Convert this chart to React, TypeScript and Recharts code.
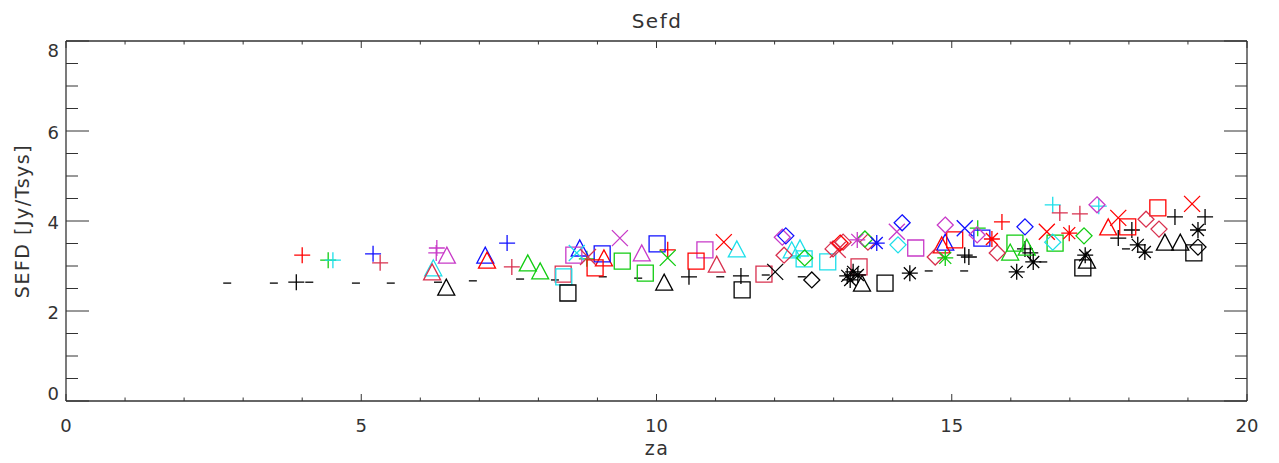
import React from 'react';
import { ScatterChart, Scatter, XAxis, YAxis } from 'recharts';

type Pt = [number, number];

// ---- data: [za, SEFD] per marker group ----
const blackDash: Pt[] = [[2.73,2.62],[3.52,2.62],[4.12,2.64],[4.91,2.62],[5.50,2.62],[6.30,2.64],[6.89,2.67],[7.69,2.71],[8.28,2.69],[9.09,2.76],[9.69,2.73],[11.08,2.76],[11.85,2.80],[12.46,2.76],[14.61,2.89],[15.21,2.89],[16.55,3.09],[17.95,3.38]];

const blackPlus: Pt[] = [[3.90,2.64],[10.55,2.76],[11.43,2.78],[15.22,3.24],[15.29,3.20],[16.24,3.38],[16.33,3.29],[17.82,3.62],[18.05,3.80],[18.78,4.09],[19.29,4.09]];
const redPlus: Pt[] = [[4.00,3.24],[10.19,3.36],[15.85,3.98]];
const greenPlus: Pt[] = [[4.44,3.13],[8.82,3.16],[15.44,3.84]];
const cyanPlus: Pt[] = [[4.52,3.13],[16.71,4.36],[17.49,4.33]];
const bluePlus: Pt[] = [[5.20,3.27],[7.47,3.51]];
const crimsonPlus: Pt[] = [[5.32,3.07],[7.55,2.98],[16.83,4.18],[17.17,4.16]];
const magentaPlus: Pt[] = [[6.28,3.40],[6.27,3.29]];

const magentaTri: Pt[] = [[6.45,3.24],[9.75,3.29]];
const cyanTri: Pt[] = [[6.22,2.96],[11.36,3.38],[12.29,3.36],[12.43,3.40]];
const crimsonTri: Pt[] = [[6.20,2.87],[11.02,3.04]];
const blackTri: Pt[] = [[6.44,2.53],[10.13,2.64],[13.48,2.62],[17.29,3.13],[18.61,3.53],[18.87,3.53]];
const blueTri: Pt[] = [[7.10,3.24],[8.70,3.40],[14.89,3.53]];
const redTri: Pt[] = [[7.13,3.13],[9.11,3.18],[14.83,3.47],[17.65,3.87]];
const greenTri: Pt[] = [[7.82,3.07],[8.03,2.89],[15.99,3.31],[16.27,3.42]];

const crimsonSq: Pt[] = [[8.42,2.82],[11.82,2.82],[13.43,2.98]];
const cyanSq: Pt[] = [[8.43,2.76],[12.50,3.16],[12.90,3.09]];
const blackSq: Pt[] = [[8.50,2.40],[11.45,2.47],[13.87,2.62],[17.22,2.96],[19.10,3.29]];
const magentaSq: Pt[] = [[8.60,3.24],[10.82,3.36],[14.39,3.40]];
const blueSq: Pt[] = [[9.08,3.27],[10.01,3.49],[15.51,3.62]];
const redSq: Pt[] = [[8.96,2.96],[10.67,3.11],[15.05,3.58],[17.98,3.87],[18.49,4.29]];
const greenSq: Pt[] = [[9.42,3.11],[9.81,2.84],[16.07,3.51],[16.75,3.51]];

const cyanX: Pt[] = [[8.65,3.29]];
const crimsonX: Pt[] = [[8.84,3.20],[13.07,3.36]];
const magentaX: Pt[] = [[9.38,3.62],[14.07,3.76]];
const redX: Pt[] = [[11.14,3.53],[16.61,3.76],[17.82,4.07],[19.07,4.38]];
const greenX: Pt[] = [[10.19,3.18]];
const blackX: Pt[] = [[12.01,2.87]];
const blueX: Pt[] = [[15.22,3.84]];

const magentaDia: Pt[] = [[12.13,3.64],[14.89,3.91],[15.43,3.69],[17.46,4.36]];
const blueDia: Pt[] = [[12.19,3.67],[14.16,3.96],[16.24,3.87]];
const crimsonDia: Pt[] = [[12.16,3.24],[12.99,3.38],[13.16,3.53],[13.58,3.53],[14.72,3.20],[15.77,3.29],[18.29,4.04],[18.51,3.82]];
const redDia: Pt[] = [[13.11,3.51]];
const cyanDia: Pt[] = [[14.09,3.47],[16.71,3.53]];
const greenDia: Pt[] = [[12.51,3.18],[13.53,3.60],[17.24,3.67]];
const blackDia: Pt[] = [[12.63,2.69],[19.17,3.42]];

const magentaAst: Pt[] = [[13.40,3.58]];
const blueAst: Pt[] = [[13.73,3.51]];
const blackAst: Pt[] = [[13.23,2.78],[13.33,2.87],[13.41,2.80],[13.28,2.69],[14.29,2.84],[16.10,2.87],[16.38,3.09],[17.26,3.24],[18.15,3.47],[18.27,3.31],[19.17,3.80]];
const redAst: Pt[] = [[15.68,3.60],[16.99,3.73]];
const greenAst: Pt[] = [[14.89,3.18]];

const xTicks = [0,1,2,3,4,5,6,7,8,9,10,11,12,13,14,15,16,17,18,19,20];
const yTicks = [0,0.5,1,1.5,2,2.5,3,3.5,4,4.5,5,5.5,6,6.5,7,7.5,8];
const xMajor = [0,5,10,15,20];
const yMajor = [0,2,4,6,8];

// ---- styles ----
const C = {
  black: '#000000',
  red: '#ff0000',
  green: '#11cc11',
  cyan: '#1ddfea',
  blue: '#1010ff',
  magenta: '#c83ac8',
  crimson: '#d8304e',
};
const FONT = '"DejaVu Sans", sans-serif';
const TXT = '#333333';
const AX = '#333333';

type Sym = 'dash' | 'plus' | 'tri' | 'sq' | 'x' | 'dia' | 'ast';

const groups: { data: Pt[]; sym: Sym; color: string }[] = [
  { data: blackDash, sym: 'dash', color: C.black },
  { data: blackPlus, sym: 'plus', color: C.black },
  { data: redPlus, sym: 'plus', color: C.red },
  { data: greenPlus, sym: 'plus', color: C.green },
  { data: cyanPlus, sym: 'plus', color: C.cyan },
  { data: bluePlus, sym: 'plus', color: C.blue },
  { data: crimsonPlus, sym: 'plus', color: C.crimson },
  { data: magentaPlus, sym: 'plus', color: C.magenta },
  { data: magentaTri, sym: 'tri', color: C.magenta },
  { data: cyanTri, sym: 'tri', color: C.cyan },
  { data: crimsonTri, sym: 'tri', color: C.crimson },
  { data: blackTri, sym: 'tri', color: C.black },
  { data: blueTri, sym: 'tri', color: C.blue },
  { data: redTri, sym: 'tri', color: C.red },
  { data: greenTri, sym: 'tri', color: C.green },
  { data: crimsonSq, sym: 'sq', color: C.crimson },
  { data: cyanSq, sym: 'sq', color: C.cyan },
  { data: blackSq, sym: 'sq', color: C.black },
  { data: magentaSq, sym: 'sq', color: C.magenta },
  { data: blueSq, sym: 'sq', color: C.blue },
  { data: redSq, sym: 'sq', color: C.red },
  { data: greenSq, sym: 'sq', color: C.green },
  { data: cyanX, sym: 'x', color: C.cyan },
  { data: crimsonX, sym: 'x', color: C.crimson },
  { data: magentaX, sym: 'x', color: C.magenta },
  { data: redX, sym: 'x', color: C.red },
  { data: greenX, sym: 'x', color: C.green },
  { data: blackX, sym: 'x', color: C.black },
  { data: blueX, sym: 'x', color: C.blue },
  { data: magentaDia, sym: 'dia', color: C.magenta },
  { data: blueDia, sym: 'dia', color: C.blue },
  { data: crimsonDia, sym: 'dia', color: C.crimson },
  { data: redDia, sym: 'dia', color: C.red },
  { data: cyanDia, sym: 'dia', color: C.cyan },
  { data: greenDia, sym: 'dia', color: C.green },
  { data: blackDia, sym: 'dia', color: C.black },
  { data: magentaAst, sym: 'ast', color: C.magenta },
  { data: blueAst, sym: 'ast', color: C.blue },
  { data: blackAst, sym: 'ast', color: C.black },
  { data: redAst, sym: 'ast', color: C.red },
  { data: greenAst, sym: 'ast', color: C.green },
];

function markerPath(sym: Sym, cx: number, cy: number): string {
  const s = 8;
  switch (sym) {
    case 'dash':
      return `M${cx - 4},${cy}H${cx + 4}`;
    case 'plus':
      return `M${cx - s},${cy}H${cx + s}M${cx},${cy - s}V${cy + s}`;
    case 'x':
      return `M${cx - s},${cy - s}L${cx + s},${cy + s}M${cx - s},${cy + s}L${cx + s},${cy - s}`;
    case 'tri':
      return `M${cx - 8.5},${cy + 8}L${cx},${cy - 8}L${cx + 8.5},${cy + 8}Z`;
    case 'sq':
      return `M${cx - 8},${cy - 8}H${cx + 8}V${cy + 8}H${cx - 8}Z`;
    case 'dia':
      return `M${cx},${cy - 8}L${cx + 8},${cy}L${cx},${cy + 8}L${cx - 8},${cy}Z`;
    case 'ast': {
      const d = 6;
      return `M${cx - s},${cy}H${cx + s}M${cx},${cy - s}V${cy + s}M${cx - d},${cy - d}L${cx + d},${cy + d}M${cx - d},${cy + d}L${cx + d},${cy - d}`;
    }
  }
  return '';
}

const makeShape = (sym: Sym, color: string) => (props: any) => {
  const { cx, cy } = props;
  if (cx == null || cy == null) return <g />;
  return <path d={markerPath(sym, cx, cy)} fill="none" stroke={color} strokeWidth={1.3} />;
};

const BottomTick = (props: any) => {
  const { x, y, payload } = props;
  const major = xMajor.includes(payload.value);
  return (
    <g>
      <line x1={x} y1={y} x2={x} y2={y - (major ? 7 : 3.5)} stroke={AX} strokeWidth={1} />
      {major && (
        <text x={x} y={y + 31} textAnchor="middle" fontFamily={FONT} fontSize={18} fill={TXT}>
          {payload.value}
        </text>
      )}
    </g>
  );
};
const TopTick = (props: any) => {
  const { x, y, payload } = props;
  const major = xMajor.includes(payload.value);
  return <line x1={x} y1={y} x2={x} y2={y + (major ? 7 : 3.5)} stroke={AX} strokeWidth={1} />;
};
const LeftTick = (props: any) => {
  const { x, y, payload } = props;
  const v = payload.value;
  const major = yMajor.includes(v);
  const nudge = v === 8 ? 9 : v === 0 ? -8 : 1;
  return (
    <g>
      <line x1={x} y1={y} x2={x + (major ? 23 : 12)} y2={y} stroke={AX} strokeWidth={1} />
      {major && (
        <text x={x - 7} y={y + nudge + 7} textAnchor="end" fontFamily={FONT} fontSize={18} fill={TXT}>
          {v}
        </text>
      )}
    </g>
  );
};
const RightTick = (props: any) => {
  const { x, y, payload } = props;
  const major = yMajor.includes(payload.value);
  return <line x1={x} y1={y} x2={x - (major ? 23 : 12)} y2={y} stroke={AX} strokeWidth={1} />;
};

const W = 1263;
const H = 447;

export default function App() {
  return (
    <div style={{ position: 'relative', width: W, height: H, background: '#fff' }}>
      <ScatterChart width={W} height={H} margin={{ top: 32, right: 23, bottom: 53, left: 57 }}>
        <XAxis
          xAxisId="b"
          dataKey="za"
          type="number"
          orientation="bottom"
          domain={[0, 20]}
          allowDataOverflow
          ticks={xTicks}
          interval={0}
          height={1}
          tickSize={0}
          tickMargin={0}
          tickLine={false}
          axisLine={{ stroke: AX, strokeWidth: 1.3 }}
          tick={BottomTick}
        />
        <XAxis
          xAxisId="t"
          dataKey="za"
          type="number"
          orientation="top"
          domain={[0, 20]}
          allowDataOverflow
          ticks={xTicks}
          interval={0}
          height={1}
          tickSize={0}
          tickMargin={0}
          tickLine={false}
          axisLine={{ stroke: AX, strokeWidth: 1.3 }}
          tick={TopTick}
        />
        <YAxis
          yAxisId="l"
          dataKey="sefd"
          type="number"
          orientation="left"
          domain={[0, 8]}
          allowDataOverflow
          ticks={yTicks}
          interval={0}
          width={1}
          tickSize={0}
          tickMargin={0}
          tickLine={false}
          axisLine={{ stroke: AX, strokeWidth: 1.3 }}
          tick={LeftTick}
        />
        <YAxis
          yAxisId="r"
          dataKey="sefd"
          type="number"
          orientation="right"
          domain={[0, 8]}
          allowDataOverflow
          ticks={yTicks}
          interval={0}
          width={1}
          tickSize={0}
          tickMargin={0}
          tickLine={false}
          axisLine={{ stroke: AX, strokeWidth: 1.3 }}
          tick={RightTick}
        />
        {groups.map((g, i) => (
          <Scatter
            key={i}
            xAxisId="b"
            yAxisId="l"
            data={g.data.map(([za, sefd]) => ({ za, sefd }))}
            dataKey="sefd"
            shape={makeShape(g.sym, g.color)}
            isAnimationActive={false}
            legendType="none"
          />
        ))}
      </ScatterChart>
      <svg
        width={W}
        height={H}
        style={{ position: 'absolute', left: 0, top: 0, pointerEvents: 'none', overflow: 'visible' }}
      >
        <text x={649} y={20} textAnchor="middle" fontFamily={FONT} fontSize={20} letterSpacing={1.5} fill={TXT}>
          Sefd
        </text>
        <text x={649} y={447} textAnchor="middle" fontFamily={FONT} fontSize={19} letterSpacing={1.5} fill={TXT}>
          za
        </text>
        <text
          x={21}
          y={213}
          textAnchor="middle"
          fontFamily={FONT}
          fontSize={19}
          letterSpacing={1.5}
          fill={TXT}
          transform="rotate(-90, 21, 213)"
        >
          SEFD [Jy/Tsys]
        </text>
      </svg>
    </div>
  );
}
